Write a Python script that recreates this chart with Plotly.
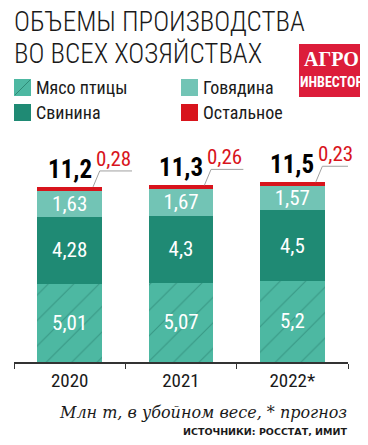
import plotly.graph_objects as go

years = ["2020", "2021", "2022*"]
poultry = [5.01, 5.07, 5.2]
pork = [4.28, 4.3, 4.5]
beef = [1.63, 1.67, 1.57]
other = [0.28, 0.26, 0.23]
series_names = ["Мясо птицы", "Свинина", "Говядина", "Остальное"]

C_POULTRY = "#4db8a2"
C_PORK = "#1f8a74"
C_BEEF = "#72c4b5"
C_OTHER = "#d8141c"
C_LOGO = "#dc1d3a"
C_TEXT = "#1a1a1a"

NARROW = "Roboto Condensed, DejaVu Sans Condensed, sans-serif"

# page has an 8px body margin: build the figure 8px smaller and shift targets
OFF = 8
W, H = 368 - OFF, 445 - OFF
ML, MR, MT, MB = 14 - OFF, 20, 140 - OFF, 83
PW = W - ML - MR
PH = H - MT - MB


def px_x(px):
    return (px - OFF - ML) / PW


def px_y(py):
    return (H - MB - (py - OFF)) / PH


def fmt(v, nd=None):
    s = f"{v:.{nd}f}" if nd is not None else f"{v:g}"
    return s.replace(".", ",")


xs = list(range(len(years)))
BW = 0.58

fig = go.Figure()
fig.add_bar(x=xs, y=poultry, width=BW, name=series_names[0],
            marker=dict(color=C_POULTRY, line=dict(width=0),
                        pattern=dict(shape="/", size=18, solidity=0.06,
                                     fgcolor="#2e8a76", fgopacity=0.7)),
            text=[fmt(v) for v in poultry])
fig.add_bar(x=xs, y=pork, width=BW, name=series_names[1],
            marker=dict(color=C_PORK, line=dict(width=0)),
            text=[fmt(v) for v in pork])
fig.add_bar(x=xs, y=beef, width=BW, name=series_names[2],
            marker=dict(color=C_BEEF, line=dict(width=0)),
            text=[fmt(v) for v in beef])
fig.add_bar(x=xs, y=other, width=BW, name=series_names[3],
            marker=dict(color=C_OTHER, line=dict(width=0)),
            textposition="none")
for tr in fig.data[:3]:
    tr.update(textposition="inside", insidetextanchor="middle",
              constraintext="none",
              textfont=dict(family=NARROW, size=21, color="white"))

totals = [a + b + c + d for a, b, c, d in zip(poultry, pork, beef, other)]

# leader lines and labels for "Остальное", totals above bars
for i, t in enumerate(totals):
    fig.add_scatter(x=[i + 0.21, i + 0.27, i + 0.56],
                    y=[t, t + 1.02, t + 1.02], mode="lines",
                    line=dict(color="#a0a0a0", width=1),
                    hoverinfo="skip", showlegend=False)
    fig.add_annotation(x=i + 0.39, y=t + 1.02, xref="x", yref="y",
                       text=fmt(other[i]), showarrow=False,
                       yanchor="bottom", yshift=-2,
                       font=dict(family=NARROW, size=21, color=C_OTHER))
    fig.add_annotation(x=i, y=t, xref="x", yref="y",
                       text=f"<b>{fmt(t, 1)}</b>", showarrow=False,
                       yanchor="bottom", yshift=1,
                       font=dict(family=NARROW, size=25, color="black"))

# title
TITLE_FONT = dict(family="Roboto Condensed", size=27, color=C_TEXT, weight=300)
fig.add_annotation(x=px_x(12), y=px_y(22), xref="paper", yref="paper",
                   text="ОБЪЕМЫ ПРОИЗВОДСТВА", showarrow=False,
                   xanchor="left", yanchor="middle", font=TITLE_FONT)
fig.add_annotation(x=px_x(12), y=px_y(54), xref="paper", yref="paper",
                   text="ВО ВСЕХ ХОЗЯЙСТВАХ", showarrow=False,
                   xanchor="left", yanchor="middle", font=TITLE_FONT)

# custom legend (2 x 2)
legend_items = [
    (series_names[0], C_POULTRY, 14, 79),
    (series_names[2], C_BEEF, 181, 79),
    (series_names[1], C_PORK, 14, 104),
    (series_names[3], C_OTHER, 181, 104),
]
for name, col, lx, ly in legend_items:
    fig.add_shape(type="rect", xref="paper", yref="paper",
                  x0=px_x(lx), x1=px_x(lx + 17), y0=px_y(ly), y1=px_y(ly + 17),
                  fillcolor=col, line=dict(width=0), layer="above")
    fig.add_annotation(x=px_x(lx + 20), y=px_y(ly + 9), xref="paper", yref="paper",
                       text=name, showarrow=False, xanchor="left", yanchor="middle",
                       font=dict(family=NARROW, size=18, color=C_TEXT))
fig.add_shape(type="line", xref="paper", yref="paper",
              x0=px_x(15), y0=px_y(95), x1=px_x(30), y1=px_y(80),
              line=dict(color="#2e8a76", width=1), layer="above")

# logo
fig.add_shape(type="rect", xref="paper", yref="paper",
              x0=px_x(299), x1=px_x(363), y0=px_y(44), y1=px_y(97),
              fillcolor=C_LOGO, line=dict(width=0), layer="above")
fig.add_annotation(x=px_x(331), y=px_y(59), xref="paper", yref="paper",
                   text="<b>АГРО</b>", showarrow=False,
                   xanchor="center", yanchor="middle",
                   font=dict(family="Liberation Serif, DejaVu Serif, serif", size=20, color="white"))
fig.add_annotation(x=px_x(331), y=px_y(82), xref="paper", yref="paper",
                   text="<b>ИНВЕСТОР</b>", showarrow=False,
                   xanchor="center", yanchor="middle",
                   font=dict(family=NARROW, size=14, color="white"))

# footnotes
fig.add_annotation(x=px_x(349), y=px_y(412), xref="paper", yref="paper",
                   text="<i>Млн т, в убойном весе, * прогноз</i>", showarrow=False,
                   xanchor="right", yanchor="middle",
                   font=dict(family="DejaVu Serif, Liberation Serif, serif", size=16, color=C_TEXT))
fig.add_annotation(x=px_x(349), y=px_y(431), xref="paper", yref="paper",
                   text="<b>ИСТОЧНИКИ: РОССТАТ, ИМИТ</b>", showarrow=False,
                   xanchor="right", yanchor="middle",
                   font=dict(family="DejaVu Sans", size=9.5, color=C_TEXT))

fig.update_layout(
    width=W, height=H,
    margin=dict(l=ML, r=MR, t=MT, b=MB, pad=0),
    barmode="stack",
    showlegend=False,
    plot_bgcolor="white", paper_bgcolor="white",
    xaxis=dict(range=[-0.5, 2.5], tickmode="array", tickvals=xs, ticktext=years,
               ticks="", showgrid=False, zeroline=False,
               showline=True, linecolor="#333333", linewidth=1.5,
               tickfont=dict(family=NARROW, size=19, color=C_TEXT),
               minor=dict(tickmode="array", tickvals=[-0.5, 0.5, 1.5, 2.5],
                          ticks="outside", ticklen=5, tickcolor="#333333",
                          tickwidth=1, showgrid=False),
               fixedrange=True),
    yaxis=dict(range=[0, 14.2], visible=False, fixedrange=True),
)

fig.write_html("out.html")
